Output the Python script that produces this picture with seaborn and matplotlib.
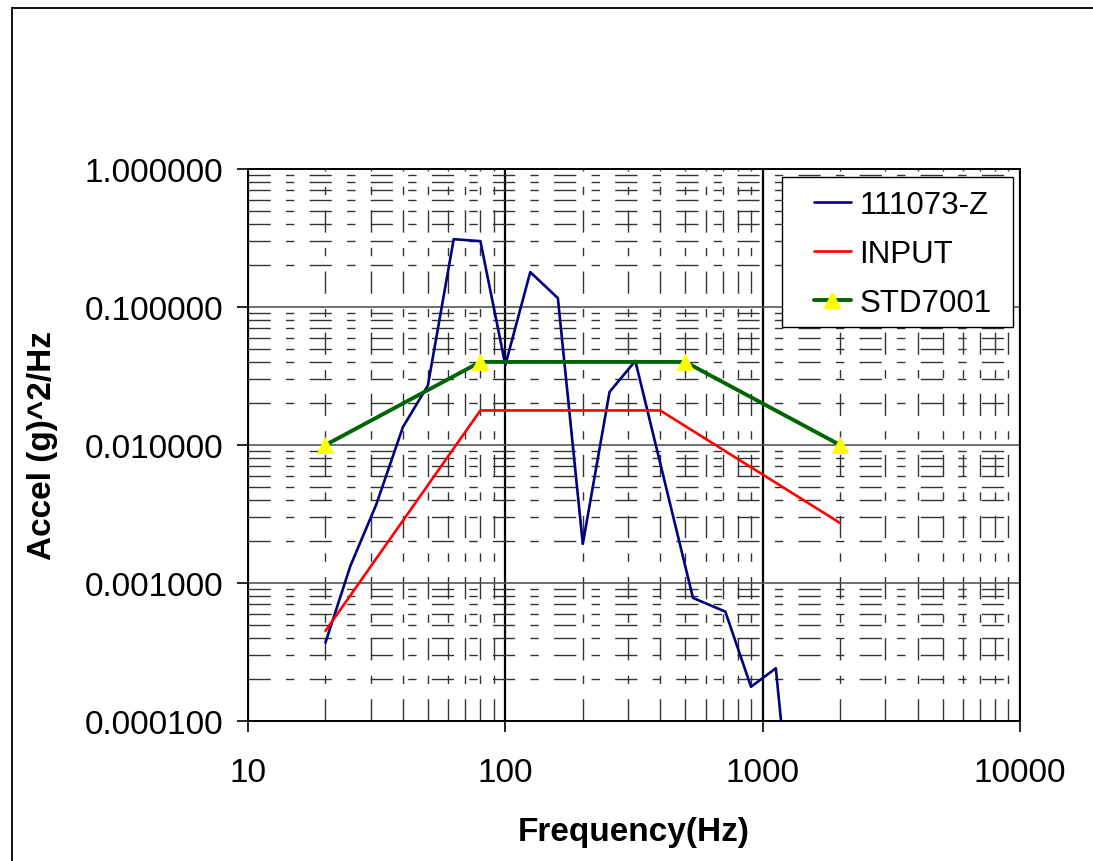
import numpy as np
import pandas as pd
import matplotlib
matplotlib.use("Agg")
import matplotlib.pyplot as plt
import matplotlib.ticker as mticker
from matplotlib.lines import Line2D
from matplotlib.patches import Rectangle
import seaborn as sns

# measured response 111073-Z
resp_freq = [20, 25, 31.5, 40, 50, 63, 80, 100, 125, 160, 200, 254, 320, 536, 716, 901, 1125, 1250]
resp_psd = [0.00037, 0.00133, 0.0037, 0.0135, 0.027, 0.31, 0.30, 0.038, 0.179, 0.116,
            0.00192, 0.0242, 0.0407, 0.00078, 0.00062, 0.000177, 0.000241, 0.000033]

# input profile
input_freq = [20, 80, 400, 2000]
input_psd = [0.00045, 0.0178, 0.0178, 0.00272]

# STD7001 spec
std_freq = [20, 80, 500, 2000]
std_psd = [0.01, 0.04, 0.04, 0.01]

labels = ["111073-Z", "INPUT", "STD7001"]

sns.set_style("white")
plt.rcParams["font.family"] = ["Liberation Sans", "DejaVu Sans"]
plt.rcParams["text.color"] = "black"
plt.rcParams["xtick.color"] = "black"
plt.rcParams["ytick.color"] = "black"
plt.rcParams["axes.labelcolor"] = "black"

fig = plt.figure(figsize=(10.93, 8.62), dpi=100)
ax = fig.add_axes([248 / 1093, 1 - 722 / 862, 772 / 1093, 552 / 862])

resp = pd.DataFrame({"freq": resp_freq, "psd": resp_psd})
inp = pd.DataFrame({"freq": input_freq, "psd": input_psd})
std = pd.DataFrame({"freq": std_freq, "psd": std_psd})

sns.lineplot(data=resp, x="freq", y="psd", ax=ax, color="#000080", lw=1.9,
             sort=False, estimator=None, zorder=5)
sns.lineplot(data=inp, x="freq", y="psd", ax=ax, color="#FF0000", lw=1.9,
             sort=False, estimator=None, zorder=5)
sns.lineplot(data=std, x="freq", y="psd", ax=ax, color="#006400", lw=2.8,
             sort=False, estimator=None, zorder=5, marker="^", markersize=12,
             markerfacecolor="#FFFF00", markeredgecolor="#FFFF00")

ax.set_xscale("log")
ax.set_yscale("log")
ax.set_xlim(10, 10000)
ax.set_ylim(0.0001, 1)

ax.xaxis.set_major_locator(mticker.LogLocator(base=10, numticks=10))
ax.yaxis.set_major_locator(mticker.LogLocator(base=10, numticks=10))
ax.xaxis.set_minor_locator(mticker.LogLocator(base=10, subs=np.arange(2, 10), numticks=20))
ax.yaxis.set_minor_locator(mticker.LogLocator(base=10, subs=np.arange(2, 10), numticks=20))
ax.xaxis.set_major_formatter(mticker.FuncFormatter(lambda v, p: "%d" % round(v)))
ax.yaxis.set_major_formatter(mticker.FuncFormatter(lambda v, p: "%.6f" % v))
ax.xaxis.set_minor_formatter(mticker.NullFormatter())
ax.yaxis.set_minor_formatter(mticker.NullFormatter())

dash = (0, (16, 11, 6, 11))
ax.grid(True, which="minor", axis="both", color="#333333", lw=1, linestyle=dash)
ax.grid(True, which="major", axis="x", color="black", lw=1.6, linestyle="-")
ax.grid(True, which="major", axis="y", color="#555555", lw=1.2, linestyle="-")
ax.set_axisbelow(True)

ax.tick_params(which="major", direction="out", length=8, width=1.2, color="black",
               labelsize=24, pad=10, left=True, bottom=True)
ax.tick_params(axis="x", which="major", pad=18)
ax.tick_params(which="minor", length=0)

for s in ax.spines.values():
    s.set_color("black")
    s.set_linewidth(1.4)

ax.set_xlabel("Frequency(Hz)", fontsize=24, fontweight="bold", labelpad=20)
ax.set_ylabel("Accel (g)^2/Hz", fontsize=24, fontweight="bold", labelpad=19)

# legend box
ax.add_patch(Rectangle((0.6917, 0.7138), 0.9909 - 0.6917, 0.9855 - 0.7138,
                       transform=ax.transAxes, facecolor="white", edgecolor="black",
                       lw=1.0, zorder=9, clip_on=False))
handles = [
    Line2D([], [], color="#000080", lw=1.9),
    Line2D([], [], color="#FF0000", lw=1.9),
    Line2D([], [], color="#006400", lw=2.8, marker="^", markersize=12,
           markerfacecolor="#FFFF00", markeredgecolor="#FFFF00"),
]
leg = ax.legend(handles, labels, loc="center left",
                bbox_to_anchor=(0.7332, 0.8460), borderaxespad=0, borderpad=0,
                fontsize=22.5, frameon=False, handlelength=1.18,
                labelspacing=0.6, handletextpad=0.27)
leg.set_zorder(10)

# outer chart-area border (left and top only visible)
fig.add_artist(Line2D([12 / 1093, 12 / 1093], [0, 1 - 9 / 862], color="black", lw=1.3,
                      transform=fig.transFigure))
fig.add_artist(Line2D([12 / 1093, 1], [1 - 9 / 862, 1 - 9 / 862], color="black", lw=1.3,
                      transform=fig.transFigure))

fig.savefig("out.png", dpi=100)
